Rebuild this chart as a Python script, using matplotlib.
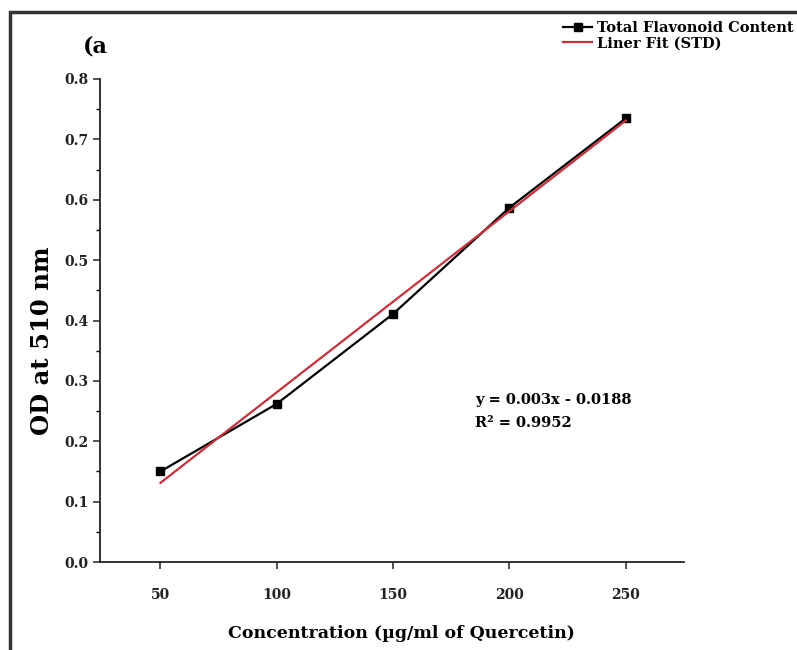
import matplotlib
matplotlib.use("Agg")
import matplotlib.pyplot as plt
from matplotlib.patches import Rectangle
from matplotlib.ticker import MultipleLocator, FormatStrFormatter

concentration = [50, 100, 150, 200, 250]
od_values = [0.150, 0.262, 0.411, 0.587, 0.735]
fit_slope = 0.003
fit_intercept = -0.0188
r_squared = 0.9952

plt.rcParams['font.family'] = ['DejaVu Serif']
plt.rcParams['font.weight'] = 'bold'

fig = plt.figure(figsize=(7.97, 6.5), dpi=100)
ax = fig.add_axes([100/797, 88/650, 584/797, 483/650])

fit_y = [fit_slope * x + fit_intercept for x in concentration]
l1, = ax.plot(concentration, od_values, color='black', lw=1.6, marker='s', ms=6,
              label='Total Flavonoid Content', zorder=3)
l2, = ax.plot([concentration[0], concentration[-1]], [fit_y[0], fit_y[-1]],
              color='#c8303a', lw=1.6, label='Liner Fit (STD)', zorder=4)

ax.set_xlim(24, 275)
ax.set_ylim(0, 0.8)
ax.set_xticks(concentration)
ax.yaxis.set_major_locator(MultipleLocator(0.1))
ax.yaxis.set_minor_locator(MultipleLocator(0.05))
ax.yaxis.set_major_formatter(FormatStrFormatter('%.1f'))
for s in ['top', 'right']:
    ax.spines[s].set_visible(False)
for s in ['left', 'bottom']:
    ax.spines[s].set_linewidth(1.3)
    ax.spines[s].set_color('#222222')
ax.tick_params(axis='both', which='major', direction='out', length=5, width=1.1,
               labelsize=10, colors='#222222')
ax.tick_params(axis='y', which='minor', direction='out', length=3, width=1.0)
ax.tick_params(axis='x', which='major', pad=14)
for lab in ax.get_xticklabels() + ax.get_yticklabels():
    lab.set_fontweight('bold')

fig.text(401/797, 1 - 633/650, 'Concentration (µg/ml of Quercetin)', ha='center', va='center',
         fontsize=12.5, fontweight='bold')
fig.text(42/797, 1 - 341/650, 'OD at 510 nm', ha='center', va='center', rotation=90,
         fontsize=17.5, fontweight='bold')
fig.text(83/797, 1 - 46/650, '(a', ha='left', va='center', fontsize=16, fontweight='bold')

fig.text(475/797, 1 - 400/650, f'y = {fit_slope}x - {abs(fit_intercept)}', ha='left', va='center',
         fontsize=10.5, fontweight='bold')
fig.text(475/797, 1 - 423/650, f'R² = {r_squared}', ha='left', va='center',
         fontsize=10.5, fontweight='bold')

leg = fig.legend(handles=[l1, l2], loc='upper left', bbox_to_anchor=(553/797, 1 - 11/650),
                 frameon=False, fontsize=10.5, handlelength=2.0, handletextpad=0.3,
                 labelspacing=0.08, borderpad=0.2, markerscale=0.9)
for t in leg.get_texts():
    t.set_fontweight('bold')

frame = Rectangle((10/797, -0.1), 1.2, 1 - 12/650 + 0.1, transform=fig.transFigure,
                  fill=False, edgecolor='#333333', lw=2.5)
fig.patches.append(frame)

fig.savefig('out.png', dpi=100, facecolor='white')
